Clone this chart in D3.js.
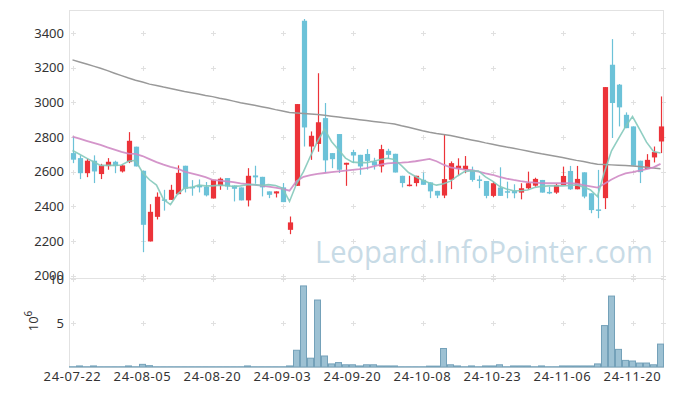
<!DOCTYPE html>
<html><head><meta charset="utf-8">
<script src="https://cdn.jsdelivr.net/npm/d3@7"></script>
<style>
html,body{margin:0;padding:0;background:#fff;}
svg{display:block;font-family:"Noto Sans","DejaVu Sans",sans-serif;}
</style></head>
<body>
<svg id="chart" width="673" height="396"></svg>
<script>
const dates = [
"24-07-22","24-07-23","24-07-24","24-07-25","24-07-26","24-07-29","24-07-30","24-07-31",
"24-08-01","24-08-02","24-08-05","24-08-06","24-08-07","24-08-08","24-08-09","24-08-12","24-08-13","24-08-14","24-08-16","24-08-19","24-08-20","24-08-21","24-08-22","24-08-23","24-08-26","24-08-27","24-08-28","24-08-29","24-08-30",
"24-09-02","24-09-03","24-09-04","24-09-05","24-09-06","24-09-09","24-09-10","24-09-11","24-09-12","24-09-13","24-09-19","24-09-20","24-09-23","24-09-24","24-09-25","24-09-26","24-09-27","24-09-30",
"24-10-02","24-10-04","24-10-07","24-10-08","24-10-10","24-10-11","24-10-14","24-10-15","24-10-16","24-10-17","24-10-18","24-10-21","24-10-22","24-10-23","24-10-24","24-10-25","24-10-28","24-10-29","24-10-30","24-10-31",
"24-11-01","24-11-04","24-11-05","24-11-06","24-11-07","24-11-08","24-11-11","24-11-12","24-11-13","24-11-14","24-11-15","24-11-18","24-11-19","24-11-20","24-11-21","24-11-22","24-11-25","24-11-26"];

const openP  = [2707,2678,2591,2663,2586,2632,2657,2601,2655,2744,2605,2197,2339,2440,2437,2470,2634,2512,2520,2514,2445,2520,2563,2520,2509,2434,2578,2570,2486,2474,2509,2264,2518,3471,2745,2760,2909,2707,2817,2640,2713,2697,2702,2659,2630,2720,2703,2576,2517,2534,2553,2538,2489,2462,2553,2617,2611,2610,2555,2546,2460,2508,2487,2488,2479,2504,2519,2552,2483,2479,2523,2604,2498,2596,2475,2382,2447,3217,3102,2928,2861,2663,2615,2682,2774];
const highP  = [2800,2694,2674,2694,2645,2678,2663,2640,2828,2744,2605,2412,2480,2495,2524,2636,2634,2551,2555,2540,2553,2566,2563,2520,2509,2620,2634,2570,2486,2486,2534,2341,2990,3481,2832,3168,2996,2707,2817,2651,2726,2697,2730,2680,2755,2732,2703,2576,2576,2576,2595,2538,2489,2817,2659,2677,2690,2629,2577,2546,2542,2625,2542,2527,2533,2600,2565,2552,2513,2530,2629,2633,2633,2596,2475,2610,3088,3365,3106,2942,2861,2663,2701,2745,3034];
const lowP   = [2649,2557,2568,2534,2557,2611,2591,2595,2649,2630,2135,2197,2324,2375,2437,2470,2480,2461,2480,2457,2445,2495,2495,2428,2434,2399,2530,2457,2447,2451,2424,2239,2518,2745,2668,2715,2592,2620,2592,2518,2649,2582,2612,2612,2595,2674,2595,2509,2515,2515,2524,2447,2447,2447,2499,2580,2591,2542,2504,2446,2452,2460,2446,2446,2440,2498,2513,2479,2470,2472,2523,2495,2498,2446,2360,2331,2384,2794,2861,2851,2634,2534,2615,2653,2707];
const closeP = [2669,2591,2663,2601,2636,2657,2632,2636,2778,2630,2293,2368,2455,2432,2495,2593,2501,2508,2509,2463,2553,2559,2514,2501,2434,2576,2567,2509,2466,2486,2424,2307,2990,2855,2807,2885,2665,2672,2611,2651,2693,2630,2662,2636,2730,2697,2595,2534,2525,2576,2524,2486,2462,2557,2649,2634,2634,2552,2550,2460,2533,2460,2484,2475,2504,2533,2558,2479,2480,2523,2575,2498,2558,2456,2378,2379,3088,2996,2971,2851,2634,2597,2668,2713,2861];

// volume in 10^6 shares
const volume = [0.03,0.12,0.03,0.12,0.03,0.03,0.03,0.03,0.12,0.03,0.3,0.15,0.03,0.03,0.03,0.03,0.03,0.03,0.03,0.03,0.03,0.03,0.03,0.03,0.03,0.12,0.03,0.03,0.03,0.03,0.03,0.12,1.9,9.2,1.0,7.6,1.25,0.35,0.5,0.25,0.25,0.12,0.25,0.25,0.12,0.12,0.12,0.03,0.03,0.03,0.03,0.1,0.1,2.1,0.25,0.12,0.03,0.12,0.03,0.12,0.12,0.25,0.03,0.12,0.12,0.12,0.03,0.12,0.03,0.03,0.12,0.12,0.12,0.12,0.12,0.35,4.7,8.05,2.0,0.75,0.68,0.45,0.45,0.25,2.6];

// moving averages
const maShort = [2722,2700,2678,2657,2636,2636,2636,2638,2660,2665,2595,2553,2522,2440,2410,2470,2505,2509,2522,2518,2518,2522,2520,2514,2518,2524,2525,2520,2525,2520,2505,2428,2530,2600,2690,2774,2846,2774,2726,2678,2655,2652,2652,2660,2670,2677,2670,2635,2595,2572,2550,2535,2522,2530,2545,2575,2600,2605,2604,2570,2545,2515,2500,2490,2490,2494,2508,2515,2518,2518,2518,2520,2523,2512,2494,2456,2600,2720,2790,2860,2918,2845,2770,2716,2708];
const maMid = [2802,2790,2778,2766,2754,2740,2727,2714,2704,2702,2690,2672,2655,2640,2628,2618,2600,2590,2580,2568,2552,2548,2544,2539,2532,2528,2524,2519,2514,2508,2500,2490,2545,2570,2580,2587,2592,2597,2602,2606,2610,2614,2620,2630,2640,2648,2650,2652,2655,2660,2667,2674,2660,2640,2625,2618,2612,2608,2600,2590,2582,2570,2560,2552,2545,2540,2536,2534,2533,2533,2533,2533,2530,2522,2515,2508,2530,2555,2575,2590,2597,2606,2615,2625,2645];
const maLong = [3245,3233,3221,3209,3197,3183,3168,3154,3140,3128,3117,3105,3097,3088,3080,3071,3062,3055,3048,3040,3033,3024,3016,3007,2998,2991,2983,2975,2967,2958,2950,2941,2939,2936,2933,2930,2925,2920,2915,2910,2905,2900,2895,2890,2885,2880,2875,2865,2856,2846,2836,2827,2820,2814,2808,2800,2791,2783,2775,2766,2758,2750,2742,2735,2727,2719,2711,2703,2696,2689,2681,2673,2665,2658,2650,2643,2641,2639,2637,2635,2633,2629,2625,2621,2617];

const priceTicks = [2000,2200,2400,2600,2800,3000,3200,3400];
const volTicks = [5,10];
const dateTicks = ["24-07-22","24-08-05","24-08-20","24-09-03","24-09-20","24-10-08","24-10-23","24-11-06","24-11-20"];

const svg = d3.select("#chart");
const L = 69, R = 664, T = 10, PB = 278, VB = 367;

const x = d3.scaleBand().domain(dates).range([L, R]).padding(0);
const bw = x.bandwidth();
const cx = d => x(d) + bw / 2;
const y = d3.scaleLinear().domain([1986, 3533]).range([PB, T]);
const yv = d3.scaleLinear().domain([0, 10.1]).range([VB, PB]);

const data = dates.map((d, i) => ({d, o: openP[i], h: highP[i], l: lowP[i], c: closeP[i], v: volume[i]}));

// frame
const gridC = "#e2e2e2";
svg.append("line").attr("x1", L).attr("x2", 663).attr("y1", T + 0.5).attr("y2", T + 0.5).attr("stroke", gridC);
svg.append("line").attr("x1", L).attr("x2", 663).attr("y1", PB + 0.5).attr("y2", PB + 0.5).attr("stroke", gridC);
svg.append("line").attr("x1", L).attr("x2", 663.5).attr("y1", VB + 0.5).attr("y2", VB + 0.5).attr("stroke", gridC);
svg.append("line").attr("x1", L + 0.5).attr("x2", L + 0.5).attr("y1", T).attr("y2", VB + 1).attr("stroke", gridC);
svg.append("line").attr("x1", 663.5).attr("x2", 663.5).attr("y1", T).attr("y2", VB + 1).attr("stroke", gridC);

// grid crosses
const crossX = dateTicks.map(d => Math.round(cx(d)) + 0.5).concat([663.5]);
const crossYs = priceTicks.map(p => Math.round(y(p)) + 0.5).concat(volTicks.map(v => Math.round(yv(v)) + 0.5));
const gc = svg.append("g").attr("stroke", "#e0e0e0").attr("stroke-width", 1);
crossX.forEach(xx => crossYs.forEach(yy => {
  gc.append("line").attr("x1", xx - 2.5).attr("x2", xx + 2.5).attr("y1", yy).attr("y2", yy);
  gc.append("line").attr("x1", xx).attr("x2", xx).attr("y1", yy - 2.5).attr("y2", yy + 2.5);
}));

// watermark
svg.append("text").attr("x", 315).attr("y", 263)
  .attr("font-family", "'Open Sans','Noto Sans',sans-serif")
  .attr("font-size", 31).attr("fill", "#c8dbe6")
  .attr("textLength", 338).attr("lengthAdjust", "spacingAndGlyphs")
  .text("Leopard.InfoPointer.com");

// volume bars
svg.append("g").selectAll("rect").data(data).join("rect")
  .attr("x", d => x(d.d) + 0.5).attr("width", bw - 1)
  .attr("y", d => yv(d.v)).attr("height", d => VB - yv(d.v))
  .attr("fill", "#9dc1d3").attr("stroke", "#74a1b9").attr("stroke-width", 1);

// candles
const up = "#ec3339", down = "#6cc2d8";
const cg = svg.append("g");
cg.selectAll("line").data(data).join("line")
  .attr("x1", d => Math.round(cx(d.d)) + 0.5).attr("x2", d => Math.round(cx(d.d)) + 0.5)
  .attr("y1", d => y(d.h)).attr("y2", d => y(d.l))
  .attr("stroke", d => d.c >= d.o ? up : down).attr("stroke-width", 1.2);
cg.selectAll("rect").data(data).join("rect")
  .attr("x", d => Math.round(cx(d.d)) + 0.5 - 2.6).attr("width", 5.2)
  .attr("y", d => y(Math.max(d.o, d.c)))
  .attr("height", d => Math.max(1.5, Math.abs(y(d.o) - y(d.c))))
  .attr("fill", d => d.c >= d.o ? up : down);

// moving averages
const line = arr => d3.line().x((v, i) => cx(dates[i])).y(v => y(v))(arr);
svg.append("path").attr("d", line(maLong)).attr("fill", "none").attr("stroke", "#999").attr("stroke-width", 1.5);
svg.append("path").attr("d", line(maMid)).attr("fill", "none").attr("stroke", "#cf89c4").attr("stroke-width", 1.8).attr("opacity", 0.9);
svg.append("path").attr("d", line(maShort)).attr("fill", "none").attr("stroke", "#84c9bb").attr("stroke-width", 1.6).attr("opacity", 0.9);

// axes
const styleAxis = g => {
  g.select(".domain").remove();
  g.selectAll("text").attr("font-size", 13).attr("fill", "#333").attr("font-family", "'Noto Sans',sans-serif");
};
svg.append("g").attr("transform", `translate(${L},0)`)
  .call(d3.axisLeft(y).tickValues(priceTicks).tickSize(0).tickPadding(5).tickFormat(d3.format("d")))
  .call(styleAxis);
svg.append("g").attr("transform", `translate(${L},0)`)
  .call(d3.axisLeft(yv).tickValues(volTicks).tickSize(0).tickPadding(5).tickFormat(d3.format("d")))
  .call(styleAxis);
svg.append("g").attr("transform", `translate(0,${VB})`)
  .call(d3.axisBottom(x).tickValues(dateTicks).tickSize(0).tickPadding(5))
  .call(styleAxis)
  .call(g => g.selectAll("text").attr("letter-spacing", 0.6));

// unit label
const ul = svg.append("text").attr("transform", "translate(38,321) rotate(-90)")
  .attr("text-anchor", "middle").attr("font-size", 13).attr("fill", "#333");
ul.append("tspan").text("10");
ul.append("tspan").attr("dy", -6).attr("font-size", 10).text("6");
</script>
</body></html>
